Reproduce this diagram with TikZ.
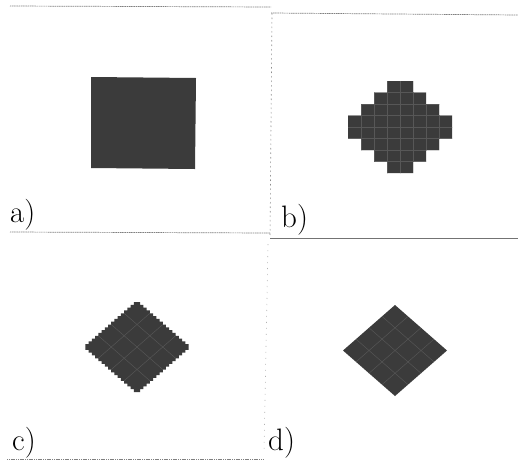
\documentclass[tikz,border=0pt]{standalone}
\begin{document}
\begin{tikzpicture}[x=1pt,y=-1pt,
  shapefill/.style={fill=black!77},
  gridline/.style={draw=black!66, line width=0.45pt},
  sepline/.style={draw=black!50, line width=0.7pt, dash pattern=on 1.2pt off 0.6pt},
  faintline/.style={draw=black!30, line width=0.6pt, dash pattern=on 1pt off 5pt},
  solidsep/.style={draw=black!55, line width=0.9pt},
  lbl/.style={anchor=base west, inner sep=0pt, font=\fontsize{31}{31}\selectfont}]
\useasboundingbox (0,0) rectangle (518,461);
\fill[white] (0,0) rectangle (518,461);

% separator lines
\draw[sepline] (10,6) -- (271,7);
\draw[sepline] (271,13) -- (518,15);
\draw[faintline, draw=black!45, dash pattern=on 1.5pt off 3pt] (272,13) -- (270,236);
\draw[faintline] (268,244) -- (264,452);
\draw[sepline] (10,232) -- (270,233);
\draw[solidsep] (270,238) -- (518,238);
\draw[sepline] (7,459) -- (263,459);

% a) square
\fill[shapefill] (91,77) -- (196,78) -- (195,169) -- (91,168) -- cycle;

% b) pixelated diamond
\begin{scope}
\clip \foreach \i in {0,...,3} {
  ({400-13*(\i+1)}, {81+11.5*\i}) rectangle ({400+13*(\i+1)}, {81+11.5*(\i+1)})
  ({400-13*(\i+1)}, {173-11.5*(\i+1)}) rectangle ({400+13*(\i+1)}, {173-11.5*\i})};
\fill[shapefill] (340,75) rectangle (460,180);
\foreach \j in {1,...,7} {
  \draw[gridline] ({348+13*\j},75) -- ({348+13*\j},180);
  \draw[gridline] (340,{81+11.5*\j}) -- (460,{81+11.5*\j});
}
\end{scope}

% c) finely rasterised diamond
\begin{scope}
\clip \foreach \i in {0,...,15} {
  ({137-3.22*(\i+1)}, {302+2.8125*\i}) rectangle ({137+3.22*(\i+1)}, {302+2.8125*(\i+1)})
  ({137-3.22*(\i+1)}, {392-2.8125*(\i+1)}) rectangle ({137+3.22*(\i+1)}, {392-2.8125*\i})};
\fill[shapefill] (80,295) rectangle (195,400);
\foreach \t in {0.25,0.5,0.75} {
  \draw[gridline] ({137-51.5*\t},{302+45*\t}) -- ({188.5-51.5*\t},{347+45*\t});
  \draw[gridline] ({137+51.5*\t},{302+45*\t}) -- ({85.5+51.5*\t},{347+45*\t});
}
\end{scope}

% d) smooth diamond
\begin{scope}
\clip (343,350.5) -- (395,305) -- (447,350.5) -- (395,396) -- cycle;
\fill[shapefill] (340,300) rectangle (450,400);
\foreach \t in {0.25,0.5,0.75} {
  \draw[gridline] ({395-52*\t},{305+45.5*\t}) -- ({447-52*\t},{350.5+45.5*\t});
  \draw[gridline] ({395+52*\t},{305+45.5*\t}) -- ({343+52*\t},{350.5+45.5*\t});
}
\end{scope}

% labels
\node[lbl] (la) at (10,222) {a)};
\node[lbl] (lb) at (281,227) {b)};
\node[lbl] (lc) at (12,450) {c)};
\node[lbl] (ld) at (268,450) {d)};
\end{tikzpicture}
\end{document}
